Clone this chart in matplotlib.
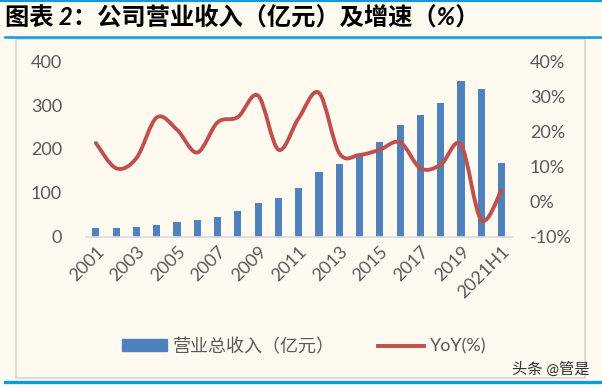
import matplotlib.pyplot as plt
import numpy as np
from matplotlib.path import Path
from matplotlib.patches import PathPatch, Rectangle
from matplotlib.lines import Line2D

plt.rcParams['font.family'] = ['Lato', 'Noto Sans CJK SC', 'DejaVu Sans']

years = ['2001', '2002', '2003', '2004', '2005', '2006', '2007', '2008', '2009', '2010',
         '2011', '2012', '2013', '2014', '2015', '2016', '2017', '2018', '2019', '2020', '2021H1']
revenue = [19, 19, 23, 27, 34, 38, 46, 58, 77, 88, 112, 147, 166, 186, 216, 254, 277, 304, 355, 336, 169]
yoy = [16.7, 9.5, 12.4, 24.0, 20.5, 14.0, 22.6, 24.1, 30.2, 14.8, 23.8, 31.0, 13.8, 13.3, 14.8,
       16.9, 9.5, 10.5, 16.2, -5.2, 3.3]
left_ticks = [0, 100, 200, 300, 400]
right_ticks = [-10, 0, 10, 20, 30, 40]

bg = '#FEFAF0'
blue = '#4F81BD'
red = '#C0504D'
txt = '#595959'
frame_blue = '#0C9CDB'

fig = plt.figure(figsize=(6.02, 3.88), dpi=100, facecolor=bg)
ax = fig.add_axes([0.1424, 0.39, 0.7076, 0.452])
ax.set_facecolor(bg)
ax2 = ax.twinx()

x = np.arange(len(years))
ax.bar(x, revenue, width=0.35, color=blue, zorder=2)
ax.set_xlim(-0.5, len(years) - 0.5)
ax.set_ylim(0, 400)
ax.set_yticks(left_ticks)
ax.set_xticks(x[::2])
ax.set_xticklabels(years[::2], rotation=45, ha='right', va='top', rotation_mode='anchor')

# excel style smoothed line: bezier segments through the points
pts = np.column_stack([x, yoy]).astype(float)
ext = np.vstack([pts[0], pts, pts[-1]])
verts = [tuple(pts[0])]
codes = [Path.MOVETO]
for i in range(len(pts) - 1):
    p0, p1, p2, p3 = ext[i], ext[i + 1], ext[i + 2], ext[i + 3]
    c1 = p1 + (p2 - p0) / 6.0
    c2 = p2 - (p3 - p1) / 6.0
    verts += [tuple(c1), tuple(c2), tuple(p2)]
    codes += [Path.CURVE4] * 3
ax2.add_patch(PathPatch(Path(verts, codes), facecolor='none', edgecolor=red, lw=2.8,
                        capstyle='round', joinstyle='round'))
ax2.set_ylim(-10, 40)
ax2.set_yticks(right_ticks)
ax2.set_yticklabels([f'{t}%' for t in right_ticks])

for a in (ax, ax2):
    for s in a.spines.values():
        s.set_visible(False)
ax.spines['bottom'].set_visible(True)
ax.spines['bottom'].set_color('#D9D9D9')
ax.spines['bottom'].set_linewidth(1.2)
ax.tick_params(axis='x', length=0, pad=5, labelsize=13, labelcolor=txt)
ax.tick_params(axis='y', length=0, pad=17, labelsize=13, labelcolor=txt)
ax2.tick_params(axis='y', length=0, pad=13, labelsize=13, labelcolor=txt)

# legend under the chart
handles = [Rectangle((0, 0), 1, 1, color=blue), Line2D([], [], color=red, lw=2.8)]
fig.legend(handles, ['营业总收入（亿元）', 'YoY(%)'], loc='center', bbox_to_anchor=(0.505, 0.108),
           ncol=2, frameon=False, fontsize=13, labelcolor=txt, handlelength=2.5,
           handletextpad=0.35, columnspacing=2.4, handleheight=0.65)

# title and frame lines
fig.text(0.008, 0.953, '图表 2：公司营业收入（亿元）及增速（%）', fontsize=17.5, fontweight='bold',
         style='italic', color='black', va='center', ha='left')
fig.add_artist(Line2D([0, 1], [0.998, 0.998], color=frame_blue, lw=1.5))
fig.add_artist(Line2D([0.008, 1], [1 - 36.5 / 388, 1 - 36.5 / 388], color=frame_blue, lw=1.8))
fig.add_artist(Line2D([0.008, 1], [1 - 381.5 / 388, 1 - 381.5 / 388], color=frame_blue, lw=2.4))
fig.add_artist(Rectangle((16 / 602, 1 - 378 / 388), (585 - 16) / 602, (378 - 38.5) / 388,
                         fill=False, edgecolor='#D6D6D6', lw=1.2))
fig.text(0.98, 1 - 369 / 388, '头条 @管是', fontsize=11, color='#333333', ha='right', va='center')

plt.savefig('out.png', dpi=100, facecolor=bg)
